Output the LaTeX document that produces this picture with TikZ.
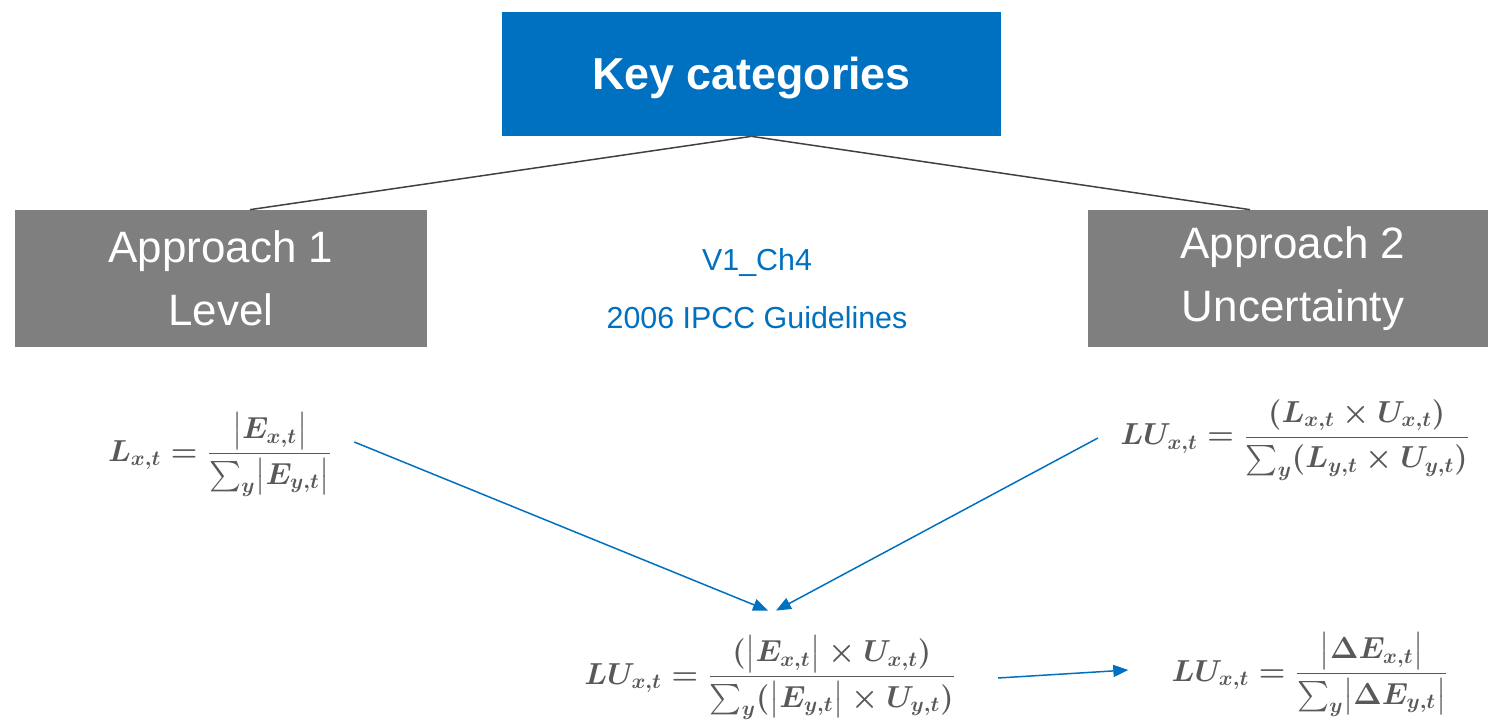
\documentclass[tikz,border=0pt]{standalone}
\usepackage{amsmath}
\usepackage[no-math]{fontspec}
\setmainfont{Liberation Sans}
\usetikzlibrary{arrows.meta,positioning}
\definecolor{ipccblue}{HTML}{0070C0}
\definecolor{boxgray}{HTML}{7F7F7F}
\definecolor{mathgray}{HTML}{595959}
\definecolor{linegray}{HTML}{404040}

\begin{document}
\begin{tikzpicture}[x=0.02cm, y=-0.02cm,
    topbox/.style={fill=ipccblue, text=white, minimum width=9.98cm, minimum height=2.48cm,
                   inner sep=0pt, text height=18pt, text depth=0pt,
                   font=\fontsize{25.5}{30}\selectfont\bfseries},
    approach/.style={fill=boxgray, text=white, minimum height=2.74cm, inner sep=0pt,
                     align=center, font=\fontsize{25}{36}\selectfont},
    formula/.style={text=mathgray, inner sep=0pt, font=\fontsize{17}{20}\selectfont\boldmath},
    note/.style={text=ipccblue, font=\fontsize{17.3}{20}\selectfont},
    branch/.style={linegray, line width=0.85pt},
    flow/.style={-{Triangle[length=3mm,width=2.4mm]}, ipccblue, line width=0.85pt}
]
\useasboundingbox (0,0) rectangle (1488,723);

% --- boxes ---
\node[topbox] (key) at (751.5,74) {Key categories};
\node[approach, minimum width=8.24cm] (app1) at (221,278.5) {Approach 1\\Level};
\node[approach, minimum width=8.2cm] (app2) at (1293,278.5) {Approach 2\\Uncertainty};

% --- source ---
\node[note] (chap) at (757,263) {V1\_Ch4};
\node[note] (guide) at (757,318) {2006 IPCC Guidelines};

% --- formulas ---
\node[formula] (level) at (220,455)
  {$\displaystyle L_{x,t}=\frac{\bigl|E_{x,t}\bigr|}{\sum_y\bigl|E_{y,t}\bigr|}$};
\node[formula] (unc) at (1295,440)
  {$\displaystyle LU_{x,t}=\frac{(L_{x,t}\times U_{x,t})}{\sum_y(L_{y,t}\times U_{y,t})}$};
\node[formula] (comb) at (770,678)
  {$\displaystyle LU_{x,t}=\frac{(\bigl|E_{x,t}\bigr|\times U_{x,t})}{\sum_y(\bigl|E_{y,t}\bigr|\times U_{y,t})}$};
\node[formula] (trend) at (1310,675)
  {$\displaystyle LU_{x,t}=\frac{\bigl|\Delta E_{x,t}\bigr|}{\sum_y\bigl|\Delta E_{y,t}\bigr|}$};

% --- connectors ---
\draw[branch] (key.south) -- ([xshift=0.58cm]app1.north);
\draw[branch] (key.south) -- ([xshift=-0.86cm]app2.north);

\draw[flow] ([xshift=0.44cm,yshift=0.26cm]level.east) -- ([xshift=-0.04cm,yshift=0.5cm]comb.north);
\draw[flow] ([xshift=-0.44cm,yshift=0.04cm]unc.west) -- ([xshift=0.12cm,yshift=0.5cm]comb.north);
\draw[flow] ([xshift=0.84cm]comb.east) -- ([xshift=-0.86cm,yshift=0.1cm]trend.west);

\end{tikzpicture}
\end{document}
